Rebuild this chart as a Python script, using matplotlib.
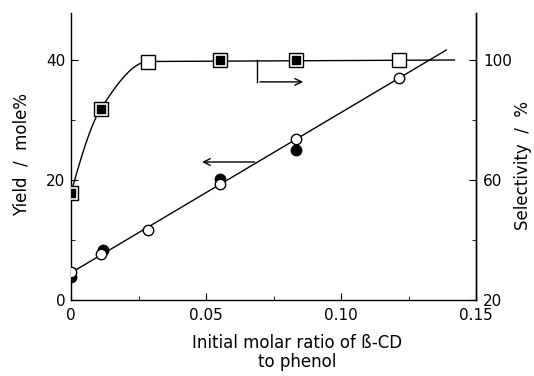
import numpy as np
import matplotlib
matplotlib.use("Agg")
import matplotlib.pyplot as plt
from matplotlib.ticker import MultipleLocator, FixedLocator

# ---- data ----
ratio = [0.0, 0.011, 0.0285, 0.055, 0.0835, 0.1215]
sel_open = [55.7, 83.7, 99.5, 100.0, 100.0, 100.0]          # selectivity, %
sel_filled_x = [0.0, 0.011, 0.055, 0.0835]
sel_filled = [55.7, 83.7, 100.0, 100.0]
yield_open = [4.7, 7.6, 11.7, 19.3, 26.9, 37.0]             # yield, mole%
yield_filled_x = [0.0, 0.012, 0.055, 0.0835]
yield_filled = [3.9, 8.3, 20.2, 25.0]
sel_line_end = 0.142
yield_line_end = 0.139

xticks = [0, 0.05, 0.10, 0.15]
xticklabels = ["0", "0.05", "0.10", "0.15"]
yticks_left = [0, 20, 40]
yticks_right = [20, 60, 100]


def pchip(x, y, xs):
    x = np.asarray(x, float); y = np.asarray(y, float)
    h = np.diff(x); d = np.diff(y) / h
    n = len(x); m = np.zeros(n)
    for k in range(1, n - 1):
        if d[k - 1] * d[k] <= 0:
            m[k] = 0
        else:
            w1 = 2 * h[k] + h[k - 1]; w2 = h[k] + 2 * h[k - 1]
            m[k] = (w1 + w2) / (w1 / d[k - 1] + w2 / d[k])
    m[0] = ((2 * h[0] + h[1]) * d[0] - h[0] * d[1]) / (h[0] + h[1])
    m[-1] = 0
    out = np.empty_like(xs)
    for i, xv in enumerate(xs):
        k = min(max(np.searchsorted(x, xv) - 1, 0), n - 2)
        t = (xv - x[k]) / h[k]
        h00 = 2 * t**3 - 3 * t**2 + 1; h10 = t**3 - 2 * t**2 + t
        h01 = -2 * t**3 + 3 * t**2; h11 = t**3 - t**2
        out[i] = h00 * y[k] + h10 * h[k] * m[k] + h01 * y[k + 1] + h11 * h[k] * m[k + 1]
    return out


fig = plt.figure(figsize=(5.34, 3.76), dpi=100)
ax = fig.add_axes([71 / 534, 1 - 300 / 376, (476 - 71) / 534, (300 - 13) / 376])
ax2 = ax.twinx()

ylim_top = (300 - 13) / 6.0
ax.set_xlim(0, 0.15)
ax.set_ylim(0, ylim_top)
ax2.set_ylim(20, 20 + 2 * ylim_top)

# yield fit line
coef = np.polyfit(ratio, yield_open, 1)
xl = np.array([0.0, yield_line_end])
ax.plot(xl, np.polyval(coef, xl), color="black", lw=1.0, zorder=2)
ax.plot(yield_filled_x, yield_filled, "o", ms=7.5, mfc="black", mec="black", zorder=3)
ax.plot(ratio, yield_open, "o", ms=7.5, mfc="white", mec="black", mew=1.0, zorder=4)

# selectivity curve
xs = np.linspace(0, ratio[2], 80)
ys = pchip(ratio[:4], sel_open[:4], xs)
ax2.plot(np.r_[xs, sel_line_end], np.r_[ys, 100.0], color="black", lw=1.0, zorder=2)
ax2.plot(ratio, sel_open, "s", ms=9.5, mfc="white", mec="black", mew=1.0, zorder=4)
ax2.plot(sel_filled_x, sel_filled, "s", ms=5.5, mfc="black", mec="black", zorder=5)

# arrows
ax.annotate("", xy=(0.0475, 23.0), xytext=(0.069, 23.0),
            arrowprops=dict(arrowstyle="->", lw=1.0, color="black", mutation_scale=12))
ax2.plot([0.069, 0.069], [100, 92.7], color="black", lw=1.0)
ax2.annotate("", xy=(0.087, 92.7), xytext=(0.069, 92.7),
             arrowprops=dict(arrowstyle="->", lw=1.0, color="black", mutation_scale=12))

# axes styling
for a in (ax, ax2):
    a.spines["top"].set_visible(False)
    for s in a.spines.values():
        s.set_linewidth(1.0)
ax2.spines["left"].set_visible(False)
ax2.spines["bottom"].set_visible(False)

ax.set_xticks(xticks)
ax.set_xticklabels(xticklabels)
ax.xaxis.set_minor_locator(MultipleLocator(0.025))
ax.set_yticks(yticks_left)
ax.yaxis.set_minor_locator(MultipleLocator(10))
ax2.set_yticks(yticks_right)
ax2.yaxis.set_minor_locator(FixedLocator([40, 80]))

ax.tick_params(axis="both", which="both", direction="in", labelsize=11, pad=4)
ax.tick_params(which="major", length=5)
ax.tick_params(which="minor", length=3)
ax.tick_params(axis="x", pad=6)
ax2.tick_params(axis="y", which="both", direction="in", labelsize=11, pad=5)
ax2.tick_params(which="major", length=5)
ax2.tick_params(which="minor", length=3)

fig.text(22 / 534, 1 - 155 / 376, "Yield  /  mole%", rotation=90,
         ha="center", va="center", fontsize=12)
fig.text(523 / 534, 1 - 165 / 376, "Selectivity  /  %", rotation=90,
         ha="center", va="center", fontsize=12)

fig.text(297 / 534, 1 - 343 / 376, "Initial molar ratio of ß-CD",
         ha="center", va="center", fontsize=12)
fig.text(297 / 534, 1 - 362 / 376, "to phenol",
         ha="center", va="center", fontsize=12)

fig.savefig("out.png", dpi=100)
